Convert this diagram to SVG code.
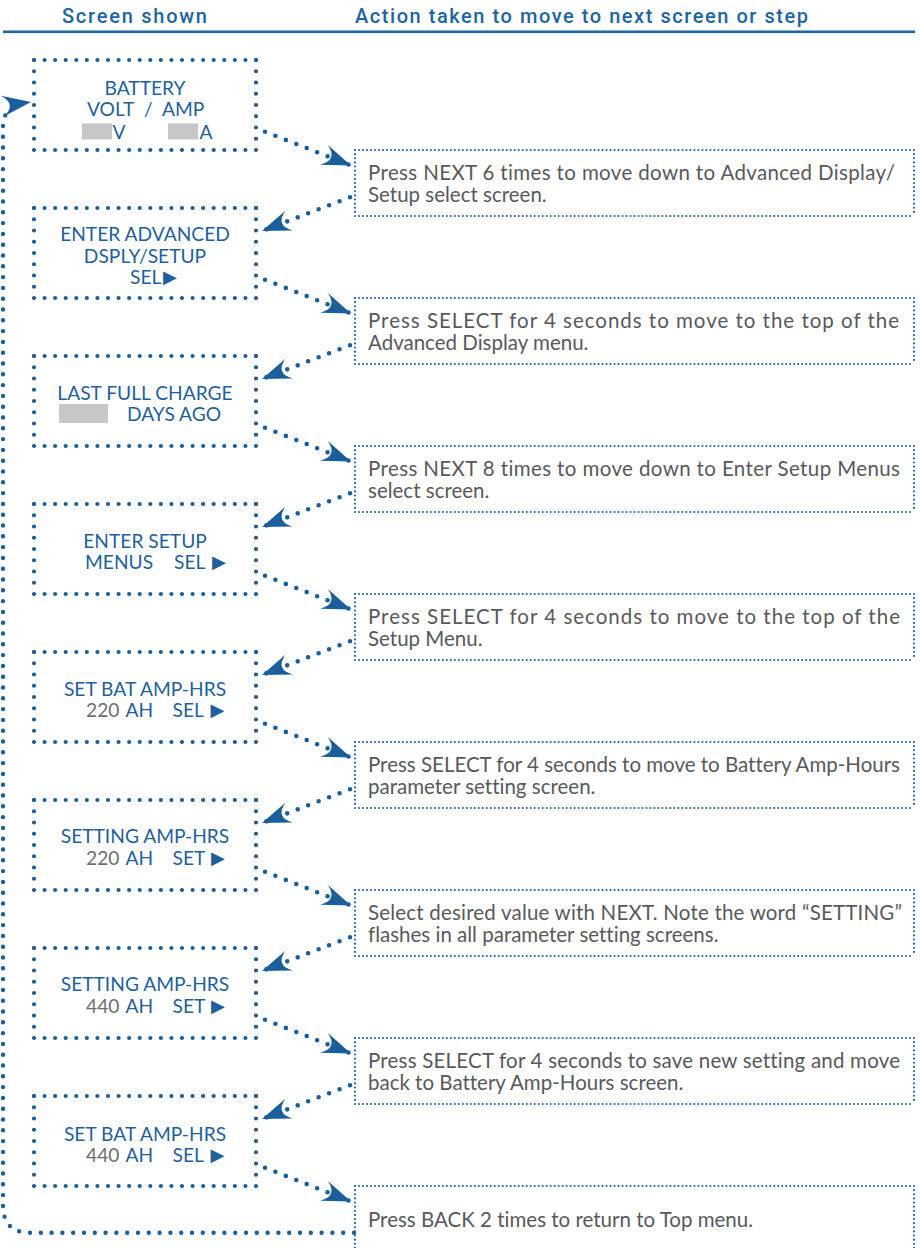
<svg xmlns="http://www.w3.org/2000/svg" xmlns:xlink="http://www.w3.org/1999/xlink" width="920" height="1248" viewBox="0 0 920 1248">
<style>
text{font-variant-ligatures:none}
.hd{font-family:Roboto,"DejaVu Sans",sans-serif;font-weight:500;font-size:20px;fill:#1d64a3}
.st{font-family:Lato,"Open Sans",sans-serif;font-size:19.2px;fill:#1f5f9d}
.gn{fill:#6d6e71}
.tri{font-family:"DejaVu Sans",sans-serif;font-size:18px;fill:#1f5f9d}
.at{font-family:Lato,"Open Sans",sans-serif;font-size:20.5px;fill:#58595b}
.sh{stroke:#1a5f9c;stroke-width:4.2;stroke-linecap:round;stroke-dasharray:0 10.571;fill:none}
.sv{stroke:#1a5f9c;stroke-width:4.2;stroke-linecap:round;stroke-dasharray:0 11.25;fill:none}
.ah{stroke:#2467a5;stroke-width:2.2;stroke-linecap:round;stroke-dasharray:0 3.993;fill:none}
.av{stroke:#2467a5;stroke-width:2.2;stroke-linecap:round;stroke-dasharray:0 4.125;fill:none}
.cn{stroke:#1a5f9c;stroke-width:4.6;stroke-linecap:round;stroke-dasharray:0 11.2;fill:none;marker-end:url(#arr)}
.lp{stroke:#1a5f9c;stroke-width:4.4;stroke-linecap:round;stroke-dasharray:0 10.8;fill:none;marker-end:url(#arr)}
.gr{fill:#c6c7c8}
</style>
<defs>
<marker id="arr" viewBox="-30 -12 32 24" refX="0" refY="0" markerWidth="32" markerHeight="24" markerUnits="userSpaceOnUse" orient="auto">
<path d="M0,0 L-29,-10.5 Q-14,0 -29,10.5 Z" fill="#1a5f9c"/>
</marker>
<g id="sb">
<line class="sh" x1="34" y1="0" x2="256" y2="0"/>
<line class="sh" x1="34" y1="90" x2="256" y2="90"/>
<line class="sv" x1="34" y1="0" x2="34" y2="90"/>
<line class="sv" x1="256" y1="0" x2="256" y2="90"/>
</g>
<g id="ab">
<line class="ah" x1="355" y1="0" x2="914" y2="0"/>
<line class="ah" x1="355" y1="66" x2="914" y2="66"/>
<line class="av" x1="355" y1="0" x2="355" y2="66"/>
<line class="av" x1="914" y1="0" x2="914" y2="66"/>
</g>
</defs>
<rect width="920" height="1248" fill="#ffffff"/>

<g id="header">
<text class="hd" x="62" y="22.5" textLength="145" lengthAdjust="spacing">Screen shown</text>
<text class="hd" x="355" y="22.5" textLength="453" lengthAdjust="spacing">Action taken to move to next screen or step</text>
<rect x="3" y="30.5" width="912" height="2.6" fill="#1d64a3"/>
</g>

<g id="connectors">
<path class="cn" d="M265,131.7 L351,165.5"/>
<path class="cn" d="M265,279.7 L351,313.5"/>
<path class="cn" d="M265,427.7 L351,461.5"/>
<path class="cn" d="M265,575.7 L351,609.5"/>
<path class="cn" d="M265,723.7 L351,757.5"/>
<path class="cn" d="M265,871.7 L351,905.5"/>
<path class="cn" d="M265,1019.7 L351,1053.5"/>
<path class="cn" d="M265,1167.7 L351,1201.5"/>
<path class="cn" d="M350,197.3 L262,231"/>
<path class="cn" d="M350,345.3 L262,379"/>
<path class="cn" d="M350,493.3 L262,527"/>
<path class="cn" d="M350,641.3 L262,675"/>
<path class="cn" d="M350,789.3 L262,823"/>
<path class="cn" d="M350,937.3 L262,971"/>
<path class="cn" d="M350,1085.3 L262,1119"/>
<path class="lp" d="M354,1232.7 H30 Q3,1232.7 3,1205 V125 Q3,106 31,102"/>
</g>

<g id="screen1">
<use xlink:href="#sb" y="60"/>
<text class="st" x="145" y="94.5" text-anchor="middle">BATTERY</text>
<text class="st" y="116"><tspan x="87">VOLT</tspan><tspan x="144">/</tspan><tspan x="162">AMP</tspan></text>
<rect class="gr" x="82" y="123.5" width="30" height="16"/>
<rect class="gr" x="168" y="123.5" width="30" height="16"/>
<text class="st" y="139"><tspan x="112.5">V</tspan><tspan x="199.5">A</tspan></text>
</g>

<g id="screen2">
<use xlink:href="#sb" y="208"/>
<text class="st" x="145" y="241" text-anchor="middle">ENTER ADVANCED</text>
<text class="st" x="145" y="263" text-anchor="middle">DSPLY/SETUP</text>
<text class="st" x="130" y="284">SEL<tspan class="tri" x="163" y="283">▶</tspan></text>
</g>

<g id="screen3">
<use xlink:href="#sb" y="356"/>
<text class="st" x="145" y="400" text-anchor="middle">LAST FULL CHARGE</text>
<rect class="gr" x="59" y="404" width="49" height="19"/>
<text class="st" x="127" y="421">DAYS AGO</text>
</g>

<g id="screen4">
<use xlink:href="#sb" y="504"/>
<text class="st" x="145" y="547.5" text-anchor="middle">ENTER SETUP</text>
<text class="st" y="568.5"><tspan x="85">MENUS</tspan><tspan x="174">SEL</tspan><tspan class="tri" x="212" y="567.5">▶</tspan></text>
</g>

<g id="screen5">
<use xlink:href="#sb" y="652"/>
<text class="st" x="145" y="696" text-anchor="middle">SET BAT AMP-HRS</text>
<text class="st" y="717"><tspan class="gn" x="86">220</tspan><tspan x="125.5">AH</tspan><tspan x="172.5">SEL</tspan><tspan class="tri" x="210.5" y="716">▶</tspan></text>
</g>

<g id="screen6">
<use xlink:href="#sb" y="800"/>
<text class="st" x="145" y="843" text-anchor="middle">SETTING AMP-HRS</text>
<text class="st" y="865"><tspan class="gn" x="86">220</tspan><tspan x="125.5">AH</tspan><tspan x="172.5">SET</tspan><tspan class="tri" x="211" y="864">▶</tspan></text>
</g>

<g id="screen7">
<use xlink:href="#sb" y="948"/>
<text class="st" x="145" y="991" text-anchor="middle">SETTING AMP-HRS</text>
<text class="st" y="1013"><tspan class="gn" x="86">440</tspan><tspan x="125.5">AH</tspan><tspan x="172.5">SET</tspan><tspan class="tri" x="211" y="1012">▶</tspan></text>
</g>

<g id="screen8">
<use xlink:href="#sb" y="1096"/>
<text class="st" x="145" y="1140.5" text-anchor="middle">SET BAT AMP-HRS</text>
<text class="st" y="1161.5"><tspan class="gn" x="86">440</tspan><tspan x="125.5">AH</tspan><tspan x="172.5">SEL</tspan><tspan class="tri" x="210.5" y="1160.5">▶</tspan></text>
</g>

<g id="action1">
<use xlink:href="#ab" y="150"/>
<text class="at" x="368" y="180" textLength="527" lengthAdjust="spacing">Press NEXT 6 times to move down to Advanced Display/</text>
<text class="at" x="368" y="202">Setup select screen.</text>
</g>
<g id="action2">
<use xlink:href="#ab" y="298"/>
<text class="at" x="368" y="328" textLength="531" lengthAdjust="spacing">Press SELECT for 4 seconds to move to the top of the</text>
<text class="at" x="368" y="350">Advanced Display menu.</text>
</g>
<g id="action3">
<use xlink:href="#ab" y="446"/>
<text class="at" x="368" y="476" textLength="532" lengthAdjust="spacing">Press NEXT 8 times to move down to Enter Setup Menus</text>
<text class="at" x="368" y="498">select screen.</text>
</g>
<g id="action4">
<use xlink:href="#ab" y="594"/>
<text class="at" x="368" y="624" textLength="532" lengthAdjust="spacing">Press SELECT for 4 seconds to move to the top of the</text>
<text class="at" x="368" y="646">Setup Menu.</text>
</g>
<g id="action5">
<use xlink:href="#ab" y="742"/>
<text class="at" x="368" y="772" textLength="532" lengthAdjust="spacing">Press SELECT for 4 seconds to move to Battery Amp-Hours</text>
<text class="at" x="368" y="794">parameter setting screen.</text>
</g>
<g id="action6">
<use xlink:href="#ab" y="890"/>
<text class="at" x="368" y="920" textLength="534" lengthAdjust="spacing">Select desired value with NEXT. Note the word “SETTING”</text>
<text class="at" x="368" y="942">flashes in all parameter setting screens.</text>
</g>
<g id="action7">
<use xlink:href="#ab" y="1038"/>
<text class="at" x="368" y="1068" textLength="532" lengthAdjust="spacing">Press SELECT for 4 seconds to save new setting and move</text>
<text class="at" x="368" y="1090">back to Battery Amp-Hours screen.</text>
</g>
<g id="action8">
<line class="ah" x1="355" y1="1186" x2="914" y2="1186"/>
<line class="av" x1="355" y1="1186" x2="355" y2="1252"/>
<line class="av" x1="914" y1="1186" x2="914" y2="1252"/>
<text class="at" x="368" y="1227">Press BACK 2 times to return to Top menu.</text>
</g>
</svg>
